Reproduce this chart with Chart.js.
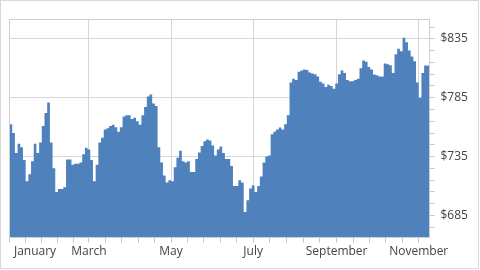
<!DOCTYPE html>
<html>
<head>
<meta charset="utf-8">
<script src="https://cdn.jsdelivr.net/npm/chart.js@4.4.0/dist/chart.umd.min.js"></script>
<style>
    html, body { margin: 0; padding: 0; background: #ffffff; }
    #frame { position: absolute; left: 0; top: 0; width: 477px; height: 267px; border: 1px solid #d9d9d9; }
    canvas { display: block; }
</style>
</head>
<body>
<div id="frame"><canvas id="priceChart"></canvas></div>
<script>

    // Month ticks (day of year, non-leap year)
    const monthLabels = ['January', 'March', 'May', 'July', 'September', 'November'];
    const monthDays = [0, 59, 120, 181, 243, 304];
    const yearDays = 365;
    const lastDay = 312;
    const stepDays = 2;

    // Price axis ticks
    const priceTicks = [675, 685, 695, 705, 715, 725, 735, 745, 755, 765, 775, 785, 795, 805, 815, 825, 835, 845];
    const priceLabels = [685, 735, 785, 835];

    // Closing price, one value per two days from January 1
    const prices = [
        761, 762.5, 755, 738, 746, 743, 732, 714, 720, 731,
        746, 738, 747, 761, 772, 781, 747, 725, 705, 707.5,
        707.5, 709, 732.5, 732.5, 728, 729, 729, 730, 737, 742.5,
        741, 732, 714, 728, 747, 751, 758, 759, 761, 762,
        760, 756, 760, 769, 770, 770, 767, 768, 765, 762,
        770, 777, 786, 787.7, 780, 778, 743, 730, 719, 713,
        715, 714, 726, 734, 740, 731, 730, 731, 722, 722,
        733, 738.5, 744, 748, 749.5, 748.7, 744.5, 736, 741, 743.5,
        738, 733, 733, 727, 710, 710, 715, 713, 688, 698,
        708, 710.5, 705, 710, 718, 730, 735, 736, 754, 756,
        758, 759.7, 758, 762.5, 770, 798, 801, 800, 807, 808,
        809, 808.5, 806.5, 805.5, 805, 803, 798.5, 797, 794, 796,
        795, 792.5, 797, 805, 808, 806, 800, 799, 799, 800,
        801, 810, 816.6, 815.5, 811, 809, 804.7, 804, 803, 803,
        814, 813.5, 812.5, 806, 822, 826.6, 824.5, 836, 832, 825,
        820, 816, 798, 785, 806, 812.4
    ];

    // Colors
    const barColor = '#4f81bd';
    const gridColor = '#d6d6d6';
    const tickMarkColor = '#c4c4c4';
    const textColor = '#444444';
    const tickFont = { family: "'Segoe UI', 'Open Sans', sans-serif", size: 12 };

    // First label is pushed inside the plot a little
    const firstLabelInset = 3.3;

    // Ticks: labelled months every other month, four minor ticks in between
    const xTicks = [];
    monthDays.forEach(function(day, i) {
        const next = i + 1 < monthDays.length ? monthDays[i + 1] : yearDays;
        if (i === 0) {
            xTicks.unshift({ value: day + firstLabelInset, text: monthLabels[i], noMark: true });
            xTicks.push({ value: day, text: '', major: true });
        } else {
            xTicks.push({ value: day, text: monthLabels[i], major: true });
        }
        for (let j = 1; j < 5; j++) {
            const minor = day + (next - day) * j / 5;
            if (minor < lastDay) xTicks.push({ value: minor, text: '' });
        }
    });
    xTicks.push({ value: lastDay, text: '', noMark: true });

    // Each price holds for stepDays; the last one is closed at lastDay
    const points = prices.map(function(price, i) {
        return { x: i * stepDays, y: price };
    });
    points.push({ x: lastDay, y: prices[prices.length - 1] });

    // Plot frame
    const plotFrame = {
        id: 'plotFrame',
        afterDatasetsDraw: function(chart) {
            const a = chart.chartArea;
            const ctx = chart.ctx;
            ctx.save();
            ctx.strokeStyle = '#cfcfcf';
            ctx.lineWidth = 1;
            ctx.strokeRect(Math.floor(a.left) + 0.5, Math.floor(a.top) + 0.5,
                Math.floor(a.right) - Math.floor(a.left), Math.floor(a.bottom) - Math.floor(a.top));
            ctx.restore();
        }
    };

    const ctx = document.getElementById('priceChart').getContext('2d');
    const myChart = new Chart(ctx, {
        type: 'line',
        data: {
            datasets: [
                {
                    label: 'Price',
                    data: points,
                    backgroundColor: barColor,
                    borderColor: barColor,
                    borderWidth: 0,
                    pointRadius: 0,
                    stepped: 'after',
                    fill: 'start'
                }
            ]
        },
        options: {
            responsive: true,
            maintainAspectRatio: false,
            animation: false,
            layout: {
                padding: { left: 8.5, top: 18.5, right: 0, bottom: 0 }
            },
            plugins: {
                legend: { display: false },
                tooltip: { enabled: false }
            },
            scales: {
                x: {
                    type: 'linear',
                    min: 0,
                    max: lastDay,
                    offset: false,
                    afterBuildTicks: function(axis) {
                        axis.ticks = xTicks.map(function(t) {
                            return { value: t.value, text: t.text, major: t.major, noMark: t.noMark };
                        });
                    },
                    afterFit: function(axis) { axis.height = 30.5; },
                    border: { display: true, color: tickMarkColor },
                    grid: {
                        offset: false,
                        tickLength: 5,
                        color: function(c) { return c.tick && c.tick.major && c.tick.value > 0 ? gridColor : 'transparent'; },
                        tickColor: function(c) { return c.tick && c.tick.noMark ? 'transparent' : tickMarkColor; }
                    },
                    ticks: {
                        autoSkip: false,
                        maxRotation: 0,
                        align: 'inner',
                        padding: 2,
                        color: textColor,
                        font: tickFont,
                        callback: function(value, index, ticks) {
                            return ticks[index].text;
                        }
                    }
                },
                y: {
                    position: 'right',
                    min: 666.3,
                    max: 851.4,
                    afterBuildTicks: function(axis) {
                        axis.ticks = priceTicks.map(function(v) { return { value: v }; });
                    },
                    afterFit: function(axis) { axis.width = 48.5; },
                    border: { display: false },
                    grid: {
                        tickLength: 5,
                        color: function(c) { return c.tick && priceLabels.includes(c.tick.value) ? gridColor : 'transparent'; },
                        tickColor: tickMarkColor
                    },
                    ticks: {
                        autoSkip: false,
                        padding: 6,
                        color: textColor,
                        font: tickFont,
                        callback: function(value) {
                            return priceLabels.includes(value) ? '$' + value : '';
                        }
                    }
                }
            }
        },
        plugins: [plotFrame]
    });
</script>
</body>
</html>
